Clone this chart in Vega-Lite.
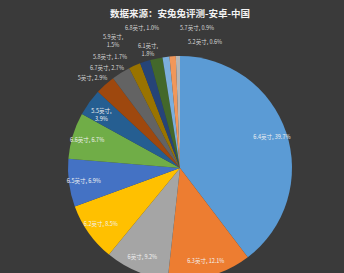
{
  "$schema": "https://vega.github.io/schema/vega-lite/v6.json",
  "width": 288,
  "height": 210,
  "autosize": {"type": "none"},
  "padding": {"left": 36, "top": 63, "right": 20, "bottom": 0},
  "background": "#3a3a3a",
  "title": {
    "text": "数据来源：安兔兔评测-安卓-中国",
    "font": "Noto Sans CJK SC",
    "fontSize": 9.5,
    "fontWeight": "bold",
    "color": "#f2f2f2",
    "anchor": "middle",
    "frame": "group",
    "offset": 7
  },
  "data": {
    "values": [
      {"size": "6.4英寸", "pct": 39.7, "order": 1},
      {"size": "6.3英寸", "pct": 12.1, "order": 2},
      {"size": "6英寸", "pct": 9.2, "order": 3},
      {"size": "6.2英寸", "pct": 8.5, "order": 4},
      {"size": "6.5英寸", "pct": 6.9, "order": 5},
      {"size": "6.6英寸", "pct": 6.7, "order": 6},
      {"size": "5.5英寸", "pct": 3.9, "order": 7},
      {"size": "5英寸", "pct": 2.9, "order": 8},
      {"size": "6.7英寸", "pct": 2.7, "order": 9},
      {"size": "5.8英寸", "pct": 1.7, "order": 10},
      {"size": "5.9英寸", "pct": 1.5, "order": 11},
      {"size": "6.1英寸", "pct": 1.8, "order": 12},
      {"size": "6.8英寸", "pct": 1.0, "order": 13},
      {"size": "5.7英寸", "pct": 0.9, "order": 14},
      {"size": "5.2英寸", "pct": 0.6, "order": 15}
    ]
  },
  "transform": [
    {"calculate": "indexof(['5.5英寸','5.9英寸','6.1英寸'], datum.size) >= 0 ? datum.size + ',|' + format(datum.pct, '.1f') + '%' : datum.size + ', ' + format(datum.pct, '.1f') + '%'", "as": "label"}
  ],
  "encoding": {
    "theta": {"field": "pct", "type": "quantitative", "stack": true},
    "order": {"field": "order", "type": "quantitative"}
  },
  "layer": [
    {
      "mark": {"type": "arc", "outerRadius": 112},
      "encoding": {
        "color": {
          "field": "size",
          "type": "nominal",
          "legend": null,
          "scale": {
            "domain": ["6.4英寸", "6.3英寸", "6英寸", "6.2英寸", "6.5英寸", "6.6英寸", "5.5英寸", "5英寸", "6.7英寸", "5.8英寸", "5.9英寸", "6.1英寸", "6.8英寸", "5.7英寸", "5.2英寸"],
            "range": ["#5B9BD5", "#ED7D31", "#A5A5A5", "#FFC000", "#4472C4", "#70AD47", "#255E91", "#9E480E", "#636363", "#997300", "#264478", "#43682B", "#7CAFDD", "#F1975A", "#B7B7B7"]
          }
        }
      }
    },
    {
      "mark": {"type": "text", "radius": 97, "fontSize": 5.5, "font": "Noto Sans CJK SC", "color": "#f2f2f2", "lineBreak": "|", "lineHeight": 8},
      "encoding": {"text": {"condition": {"test": "datum.order <= 7", "field": "label"}, "value": ""}}
    },
    {
      "mark": {"type": "text", "radius": 130, "dx": -0.7, "dy": 6.8, "fontSize": 5.5, "font": "Noto Sans CJK SC", "color": "#d9d9d9"},
      "encoding": {"text": {"condition": {"test": "datum.size == '5英寸'", "field": "label"}, "value": ""}}
    },
    {
      "mark": {"type": "text", "radius": 130, "dx": -4.5, "dy": 10.5, "fontSize": 5.5, "font": "Noto Sans CJK SC", "color": "#d9d9d9"},
      "encoding": {"text": {"condition": {"test": "datum.size == '6.7英寸'", "field": "label"}, "value": ""}}
    },
    {
      "mark": {"type": "text", "radius": 130, "dx": -17.3, "dy": 7.9, "fontSize": 5.5, "font": "Noto Sans CJK SC", "color": "#d9d9d9"},
      "encoding": {"text": {"condition": {"test": "datum.size == '5.8英寸'", "field": "label"}, "value": ""}}
    },
    {
      "mark": {"type": "text", "radius": 130, "dx": -26.4, "dy": -7.8, "fontSize": 5.5, "font": "Noto Sans CJK SC", "color": "#d9d9d9", "lineBreak": "|", "lineHeight": 8},
      "encoding": {"text": {"condition": {"test": "datum.size == '5.9英寸'", "field": "label"}, "value": ""}}
    },
    {
      "mark": {"type": "text", "radius": 130, "dx": -4.5, "dy": 5.1, "fontSize": 5.5, "font": "Noto Sans CJK SC", "color": "#d9d9d9", "lineBreak": "|", "lineHeight": 8},
      "encoding": {"text": {"condition": {"test": "datum.size == '6.1英寸'", "field": "label"}, "value": ""}}
    },
    {
      "mark": {"type": "text", "radius": 130, "dx": -21.7, "dy": -11, "fontSize": 5.5, "font": "Noto Sans CJK SC", "color": "#d9d9d9"},
      "encoding": {"text": {"condition": {"test": "datum.size == '6.8英寸'", "field": "label"}, "value": ""}}
    },
    {
      "mark": {"type": "text", "radius": 130, "dx": 25.6, "dy": -10.3, "fontSize": 5.5, "font": "Noto Sans CJK SC", "color": "#d9d9d9"},
      "encoding": {"text": {"condition": {"test": "datum.size == '5.7英寸'", "field": "label"}, "value": ""}}
    },
    {
      "mark": {"type": "text", "radius": 130, "dx": 27.5, "dy": 4, "fontSize": 5.5, "font": "Noto Sans CJK SC", "color": "#d9d9d9"},
      "encoding": {"text": {"condition": {"test": "datum.size == '5.2英寸'", "field": "label"}, "value": ""}}
    }
  ],
  "config": {"view": {"stroke": null}}
}
